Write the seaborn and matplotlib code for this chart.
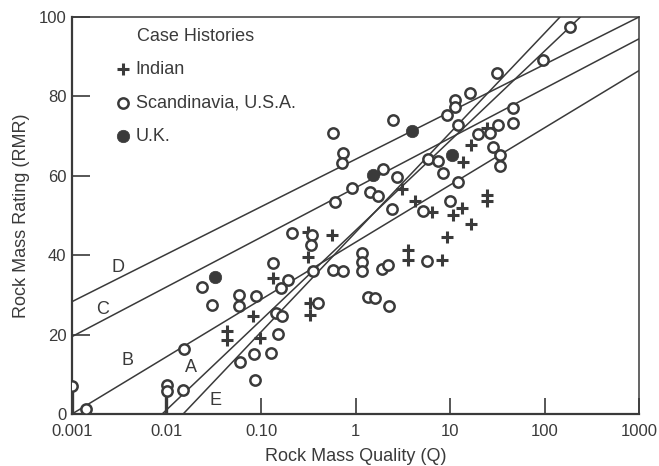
import matplotlib
matplotlib.use('Agg')
import matplotlib.pyplot as plt
import seaborn as sns

# values
scand_q = [0.001, 0.0014, 0.010, 0.010, 0.015, 0.0153, 0.0238, 0.0303, 0.0585, 0.0585,
           0.0885, 0.060, 0.0843, 0.128, 0.0865, 0.134, 0.193, 0.163, 0.144, 0.166,
           0.151, 0.213, 0.347, 0.339, 0.355, 0.40, 0.578, 0.738, 1.17, 1.17,
           1.17, 1.91, 2.21, 5.71, 1.36, 1.61, 2.26, 0.607, 0.918, 1.42,
           1.73, 2.43, 5.18, 10.0, 0.738, 0.72, 0.578, 1.95, 2.75, 2.49,
           5.85, 7.46, 8.43, 12.2, 9.3, 11.3, 11.3, 12.2, 16.3, 19.8,
           26.5, 31.4, 32.2, 46.4, 46.4, 28.5, 33.8, 33.8, 96, 186]
scand_rmr = [7.1, 1.3, 7.3, 5.8, 6.0, 16.4, 32.0, 27.5, 30.0, 27.2,
             29.7, 13.1, 15.1, 15.4, 8.6, 38.0, 33.8, 31.7, 25.4, 24.7,
             20.2, 45.6, 45.1, 42.6, 36.0, 28.0, 36.3, 36.0, 40.6, 38.3,
             36.0, 36.5, 37.5, 38.5, 29.5, 29.2, 27.2, 53.4, 56.9, 55.9,
             54.9, 51.6, 51.1, 53.7, 65.7, 63.2, 70.8, 61.7, 59.7, 74.1,
             64.2, 63.7, 60.7, 58.4, 75.3, 79.1, 77.3, 72.8, 80.9, 70.5,
             70.8, 85.9, 72.8, 77.1, 73.3, 67.3, 65.2, 62.5, 89.2, 97.5]

indian_q = [0.0437, 0.0437, 0.082, 0.0975, 0.134, 0.314, 0.314, 0.564, 0.33, 0.33,
            3.1, 4.26, 6.45, 13.4, 16.7, 24.6, 24.6, 9.3, 24.6, 16.7,
            13.7, 10.8, 8.2, 3.6, 3.6]
indian_rmr = [20.9, 18.6, 24.7, 19.1, 34.3, 39.5, 45.8, 45.1, 28.0, 24.9,
              56.7, 53.7, 50.9, 51.9, 47.9, 55.2, 53.7, 44.6, 72.0, 67.8,
              63.5, 50.1, 38.8, 41.3, 38.8]

uk_q = [0.0326, 1.53, 3.96, 10.5]
uk_rmr = [34.5, 60.2, 71.3, 65.2]

# correlation lines (end points) and their letters
line_names = ['A', 'B', 'C', 'D', 'E']
line_q = [[0.009, 240], [0.001, 1000], [0.001, 1000], [0.001, 1000], [0.015, 146]]
line_rmr = [[0, 100], [0, 86.5], [19.5, 94.5], [28.3, 100], [0, 100]]
label_q = [0.018, 0.0039, 0.0021, 0.0031, 0.033]
label_rmr = [11.8, 13.6, 26.4, 36.8, 3.5]

# short vertical stems under two points on the axis
stem_q = [0.001, 0.0098]
stem_rmr = [7.1, 6.0]

xticks = [0.001, 0.01, 0.1, 1, 10, 100, 1000]
xtick_labels = ['0.001', '0.01', '0.10', '1', '10', '100', '1000']
yticks = [0, 20, 40, 60, 80, 100]

sns.set_style('ticks')
plt.rcParams['font.family'] = ['Liberation Sans', 'DejaVu Sans']
ink = '#3a3a3a'

fig = plt.figure(figsize=(6.59, 4.66), dpi=100)
ax = fig.add_axes([72 / 659, 52 / 466, 567 / 659, 397 / 466])
ax.set_xscale('log')

for name, q, r in zip(line_names, line_q, line_rmr):
    ax.plot(q, r, color=ink, lw=1.1, zorder=2)
for name, q, r in zip(line_names, label_q, label_rmr):
    ax.text(q, r, name, fontsize=13, color=ink, ha='center', va='center')
for q, r in zip(stem_q, stem_rmr):
    ax.plot([q, q], [0, r], color=ink, lw=2.4, zorder=2)

sns.scatterplot(x=indian_q, y=indian_rmr, marker='+', s=85, color=ink,
                linewidth=2.2, label='Indian', ax=ax, zorder=3)
sns.scatterplot(x=scand_q, y=scand_rmr, marker='o', s=55, color='white',
                edgecolor=ink, linewidth=1.8, label='Scandinavia, U.S.A.', ax=ax, zorder=3)
sns.scatterplot(x=uk_q, y=uk_rmr, marker='o', s=80, color=ink,
                edgecolor=ink, linewidth=0.5, label='U.K.', ax=ax, zorder=3)

ax.set_xlim(0.001, 1000)
ax.set_ylim(0, 100)
ax.set_xticks(xticks)
ax.set_xticklabels(xtick_labels)
ax.set_yticks(yticks)
ax.minorticks_off()
ax.tick_params(axis='x', direction='in', length=11.5, width=1.2, pad=7,
               labelsize=12, colors=ink)
ax.tick_params(axis='y', direction='in', length=13, width=1.2, pad=4,
               labelsize=12, colors=ink)
for side in ['left', 'bottom']:
    ax.spines[side].set_linewidth(1.6)
for side in ['top', 'right']:
    ax.spines[side].set_linewidth(1.1)
for s in ax.spines.values():
    s.set_color(ink)

ax.set_xlabel('Rock Mass Quality (Q)', fontsize=13, color=ink, labelpad=7)
ax.set_ylabel('Rock Mass Rating (RMR)', fontsize=13, color=ink, labelpad=6)

ax.text(0.114, 0.952, 'Case Histories', transform=ax.transAxes, fontsize=13,
        color=ink, ha='left', va='center')
ax.legend(loc='upper left', bbox_to_anchor=(0.074, 0.89), frameon=False,
          fontsize=13, labelspacing=0.92, handlelength=1.0, handletextpad=0.2,
          borderaxespad=0, borderpad=0, labelcolor=ink)

plt.savefig('out.png', dpi=100)
